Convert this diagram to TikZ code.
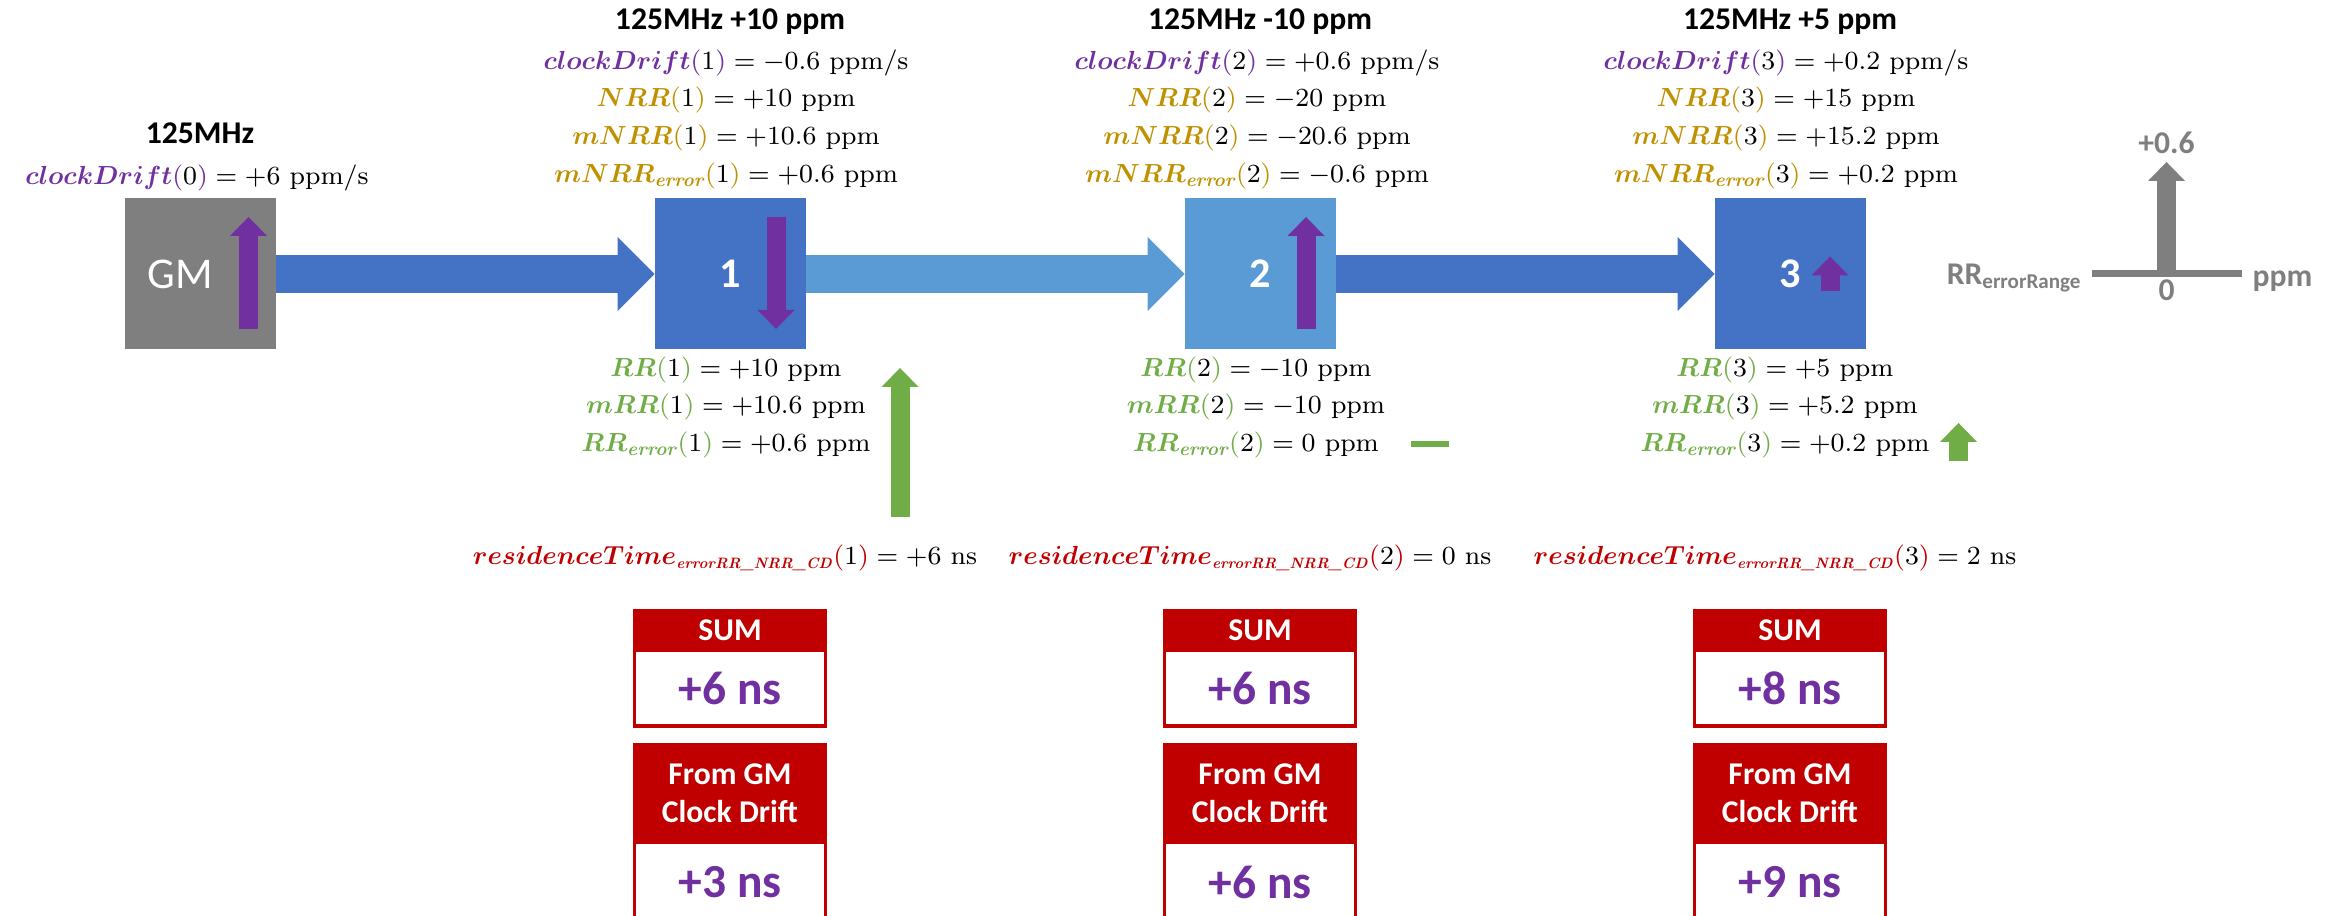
\RequirePackage{fix-cm}
\documentclass[tikz,border=0pt]{standalone}
\usepackage[no-math]{fontspec}
\usepackage{amsmath,bm}
\usetikzlibrary{arrows.meta,positioning}
\newfontfamily\calfont{Carlito}
\definecolor{cblue}{HTML}{4472C4}
\definecolor{clight}{HTML}{5B9BD5}
\definecolor{cgray}{HTML}{7F7F7F}
\definecolor{cpurple}{HTML}{7030A0}
\definecolor{cgold}{HTML}{BF9000}
\definecolor{cgreen}{HTML}{70AD47}
\definecolor{cred}{HTML}{C00000}
% 带颜色的量名
\newcommand{\lo}[2]{\text{\fontsize{#1}{#1}\selectfont\bfseries\itshape #2}}
\newcommand{\fq}[3]{{\color{#1}\bm{#2}(}#3{\color{#1})}}
\newcommand{\fqe}[3]{{\color{#1}\bm{#2}_{\lo{5.8}{error}}(}#3{\color{#1})}}
\newcommand{\rtime}[1]{{\color{cred}\bm{residenceTime}_{\lo{4.6}{errorRR\_NRR\_CD}}(}#1{\color{cred})}}

\begin{document}
\begin{tikzpicture}[
    box/.style={minimum width=1.51cm, minimum height=1.51cm, inner sep=0pt, outer sep=0pt,
      text=white, font=\calfont\bfseries\fontsize{12}{14}\selectfont},
    flow/.style={line width=0.38cm, -{Triangle[length=0.37cm, width=0.74cm, line width=0pt]}},
    updown/.style={line width=0.19cm, -{Triangle[length=0.19cm, width=0.37cm, line width=0pt]}},
    ttl/.style={anchor=base, inner sep=0pt, font=\calfont\bfseries\fontsize{9}{10.8}\selectfont},
    eq/.style={anchor=base, inner sep=0pt, font=\fontsize{8}{10.8}\selectfont, scale=0.93, transform shape},
    hdr/.style={fill=cred, draw=cred, line width=0.9pt, text=white, inner sep=0pt, outer sep=0pt,
      minimum width=1.91cm, align=center, font=\calfont\bfseries\fontsize{9}{10.8}\selectfont},
    val/.style={fill=white, draw=cred, line width=0.9pt, text=cpurple, inner sep=0pt, outer sep=0pt,
      minimum width=1.91cm, font=\calfont\bfseries\fontsize{13.5}{16}\selectfont}]
    \useasboundingbox (0,0) rectangle (23.36,9.15);
    % 时钟节点
    \node[box, fill=cgray, font=\calfont\fontsize{12.5}{15}\selectfont] (gm) at (2.0,6.41) {GM\kern0.4cm};
    \node[box, fill=cblue, right=3.79cm of gm] (n1) {1};
    \node[box, fill=clight, right=3.79cm of n1] (n2) {2};
    \node[box, fill=cblue, right=3.79cm of n2] (n3) {3};
    \draw[flow, cblue] (gm) -- (n1);
    \draw[flow, clight] (n1) -- (n2);
    \draw[flow, cblue] (n2) -- (n3);
    % 时钟漂移箭头
    \draw[updown, cpurple] ([shift={(0.485,-0.55)}]gm.center) -- ++(0,1.12);
    \draw[updown, cpurple] ([shift={(0.46,0.57)}]n1.center) -- ++(0,-1.12);
    \draw[updown, cpurple] ([shift={(0.46,-0.55)}]n2.center) -- ++(0,1.12);
    \draw[updown, cpurple] ([shift={(0.40,-0.175)}]n3.center) -- ++(0,0.35);
    % 标题
    \node[ttl] (t0) at (2.0,7.71) {125MHz};
    \node[ttl] (t1) at (7.3,8.85) {125MHz +10 ppm};
    \node[ttl] (t2) at (12.6,8.85) {125MHz -10 ppm};
    \node[ttl] (t3) at (17.9,8.85) {125MHz +5 ppm};
    \node[eq] (cd0) at (1.97,7.30) {$\fq{cpurple}{clockDrift}{0} = +6\ \mathrm{ppm/s}$};
    % 第1列
    \node[eq] (cd1) at (7.26,8.45) {$\fq{cpurple}{clockDrift}{1} = -0.6\ \mathrm{ppm/s}$};
    \node[eq] (nr1) at (7.26,8.08) {$\fq{cgold}{NRR}{1} = +10\ \mathrm{ppm}$};
    \node[eq] (mn1) at (7.26,7.70) {$\fq{cgold}{mNRR}{1} = +10.6\ \mathrm{ppm}$};
    \node[eq] (me1) at (7.26,7.32) {$\fqe{cgold}{mNRR}{1} = +0.6\ \mathrm{ppm}$};
    \node[eq] (rr1) at (7.26,5.38) {$\fq{cgreen}{RR}{1} = +10\ \mathrm{ppm}$};
    \node[eq] (mr1) at (7.26,5.01) {$\fq{cgreen}{mRR}{1} = +10.6\ \mathrm{ppm}$};
    \node[eq] (re1) at (7.26,4.63) {$\fqe{cgreen}{RR}{1} = +0.6\ \mathrm{ppm}$};
    \node[eq] (rt1) at (7.25,3.50) {$\rtime{1} = +6\ \mathrm{ns}$};
    % 第2列
    \node[eq] (cd2) at (12.57,8.45) {$\fq{cpurple}{clockDrift}{2} = +0.6\ \mathrm{ppm/s}$};
    \node[eq] (nr2) at (12.57,8.08) {$\fq{cgold}{NRR}{2} = -20\ \mathrm{ppm}$};
    \node[eq] (mn2) at (12.57,7.70) {$\fq{cgold}{mNRR}{2} = -20.6\ \mathrm{ppm}$};
    \node[eq] (me2) at (12.57,7.32) {$\fqe{cgold}{mNRR}{2} = -0.6\ \mathrm{ppm}$};
    \node[eq] (rr2) at (12.56,5.38) {$\fq{cgreen}{RR}{2} = -10\ \mathrm{ppm}$};
    \node[eq] (mr2) at (12.56,5.01) {$\fq{cgreen}{mRR}{2} = -10\ \mathrm{ppm}$};
    \node[eq] (re2) at (12.56,4.63) {$\fqe{cgreen}{RR}{2} = 0\ \mathrm{ppm}$};
    \node[eq] (rt2) at (12.50,3.50) {$\rtime{2} = 0\ \mathrm{ns}$};
    % 第3列
    \node[eq] (cd3) at (17.86,8.45) {$\fq{cpurple}{clockDrift}{3} = +0.2\ \mathrm{ppm/s}$};
    \node[eq] (nr3) at (17.86,8.08) {$\fq{cgold}{NRR}{3} = +15\ \mathrm{ppm}$};
    \node[eq] (mn3) at (17.86,7.70) {$\fq{cgold}{mNRR}{3} = +15.2\ \mathrm{ppm}$};
    \node[eq] (me3) at (17.86,7.32) {$\fqe{cgold}{mNRR}{3} = +0.2\ \mathrm{ppm}$};
    \node[eq] (rr3) at (17.85,5.38) {$\fq{cgreen}{RR}{3} = +5\ \mathrm{ppm}$};
    \node[eq] (mr3) at (17.85,5.01) {$\fq{cgreen}{mRR}{3} = +5.2\ \mathrm{ppm}$};
    \node[eq] (re3) at (17.85,4.63) {$\fqe{cgreen}{RR}{3} = +0.2\ \mathrm{ppm}$};
    \node[eq] (rt3) at (17.75,3.50) {$\rtime{3} = 2\ \mathrm{ns}$};
    % 误差箭头
    \draw[updown, cgreen] (9.00,3.98) -- (9.00,5.47);
    \draw[cgreen, line width=0.06cm] (14.11,4.71) -- (14.49,4.71);
    \draw[updown, cgreen] (19.585,4.54) -- (19.585,4.92);
    % 图例
    \coordinate (ax0) at (21.665,6.41);
    \draw[cgray, line width=0.07cm] (20.92,6.41) -- (22.42,6.41);
    \draw[updown, cgray] (ax0) -- ++(0,1.12);
    \node[ttl, text=cgray] (lp) at (21.665,7.61) {+0.6};
    \node[ttl, text=cgray] (lz) at (21.665,6.14) {0};
    \node[ttl, text=cgray, anchor=base west] (lu) at (22.52,6.28) {ppm};
    \node[ttl, text=cgray, anchor=base east] (ll) at (20.83,6.30) {RR\textsubscript{errorRange}};
    % 求和框
    \node[hdr, minimum height=0.39cm] (sh1) at (7.3,2.845) {SUM};
    \node[val, minimum height=0.76cm, below=0pt of sh1] (sv1) {+6 ns};
    \node[hdr, minimum height=0.97cm] (gh1) at (7.3,1.215) {From GM\\Clock Drift};
    \node[val, minimum height=0.8cm, below=0pt of gh1] (gv1) {+3 ns};
    \node[hdr, minimum height=0.39cm] (sh2) at (12.6,2.845) {SUM};
    \node[val, minimum height=0.76cm, below=0pt of sh2] (sv2) {+6 ns};
    \node[hdr, minimum height=0.97cm] (gh2) at (12.6,1.215) {From GM\\Clock Drift};
    \node[val, minimum height=0.8cm, below=0pt of gh2] (gv2) {+6 ns};
    \node[hdr, minimum height=0.39cm] (sh3) at (17.9,2.845) {SUM};
    \node[val, minimum height=0.76cm, below=0pt of sh3] (sv3) {+8 ns};
    \node[hdr, minimum height=0.97cm] (gh3) at (17.9,1.215) {From GM\\Clock Drift};
    \node[val, minimum height=0.8cm, below=0pt of gh3] (gv3) {+9 ns};
\end{tikzpicture}
\end{document}
